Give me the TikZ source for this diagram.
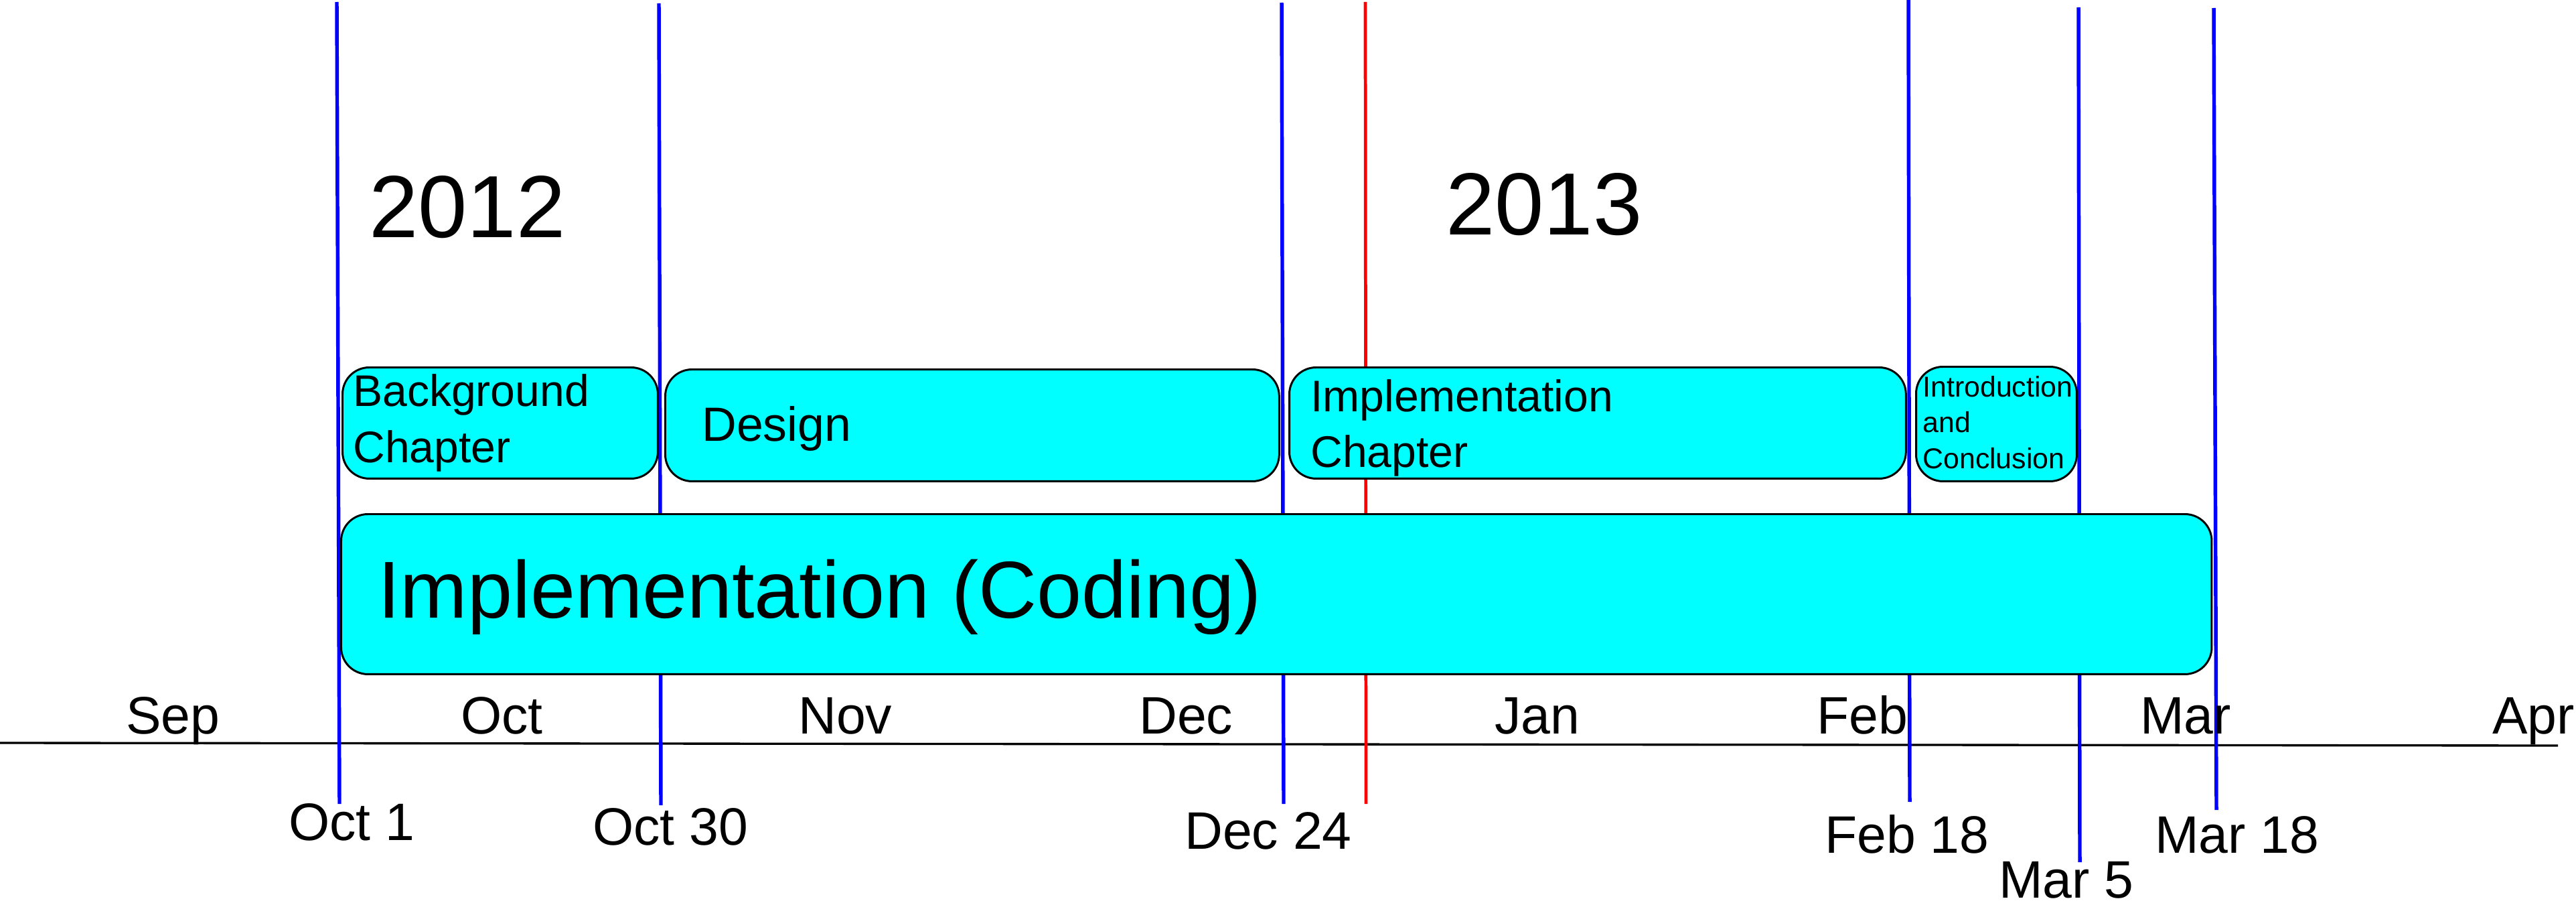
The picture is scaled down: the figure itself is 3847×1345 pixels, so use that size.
\documentclass[tikz,border=0pt]{standalone}
\usepackage{fontspec}
\setmainfont{Liberation Sans}
\begin{document}
\begin{tikzpicture}[x=0.02cm,y=-0.02cm,
  bluemark/.style={draw={rgb,255:red,0;green,0;blue,255}, line width=3.1pt},
  redmark/.style={draw={rgb,255:red,255;green,0;blue,0}, line width=2.7pt},
  axisline/.style={draw=black, line width=1.9pt},
  taskbox/.style={draw=black, fill={rgb,255:red,0;green,255;blue,255}, line width=1.7pt, rounded corners=0.8cm, inner sep=0pt, anchor=north west},
  txt/.style={inner sep=0pt, anchor=base west},
  monthfont/.style={font=\fontsize{44.8pt}{53pt}\selectfont},
  boxfont/.style={font=\fontsize{37.6pt}{45pt}\selectfont},
  designfont/.style={font=\fontsize{40.8pt}{49pt}\selectfont},
  smallfont/.style={font=\fontsize{24.4pt}{30pt}\selectfont},
  bigfont/.style={font=\fontsize{68.6pt}{80pt}\selectfont},
  yearfont/.style={font=\fontsize{75pt}{88pt}\selectfont}]
\useasboundingbox (0,0) rectangle (3847,1345);

% axis
\coordinate (axL) at (0,1109);
\coordinate (axR) at (3820,1113);
\draw[axisline] (axL) -- (axR);

% date markers
\coordinate (d1t) at (503,3);    \coordinate (d1b) at (507,1200);
\coordinate (d2t) at (984,5);    \coordinate (d2b) at (987,1202);
\coordinate (d3t) at (1914,4);   \coordinate (d3b) at (1917,1200);
\coordinate (rdt) at (2039,3);   \coordinate (rdb) at (2040,1200);
\coordinate (d4t) at (2850,0);   \coordinate (d4b) at (2852,1197);
\coordinate (d5t) at (3104,11);  \coordinate (d5b) at (3106,1287);
\coordinate (d6t) at (3306,12);  \coordinate (d6b) at (3310,1209);
\draw[bluemark] (d1t) -- (d1b);
\draw[bluemark] (d2t) -- (d2b);
\draw[bluemark] (d3t) -- (d3b);
\draw[redmark] (rdt) -- (rdb);
\draw[bluemark] (d4t) -- (d4b);
\draw[bluemark] (d5t) -- (d5b);
\draw[bluemark] (d6t) -- (d6b);

% years
\node[txt, yearfont] (y2012) at (551,354) {2012};
\node[txt, yearfont] (y2013) at (2159,350) {2013};

% task boxes
\node[taskbox, minimum width=9.42cm, minimum height=3.32cm] (bg) at (510,547) {};
\node[taskbox, minimum width=18.34cm, minimum height=3.34cm] (design) at (992,550) {};
\node[taskbox, minimum width=18.42cm, minimum height=3.32cm] (implch) at (1924,547) {};
\node[taskbox, minimum width=4.8cm, minimum height=3.42cm] (intro) at (2860,546) {};
\node[taskbox, minimum width=55.88cm, minimum height=4.78cm] (coding) at (508,766) {};

% box texts
\node[txt, boxfont] (bgA) at (527,606) {Background};
\node[txt, boxfont] (bgB) at (527,690) {Chapter};
\node[txt, designfont] (designT) at (1048,658) {Design};
\node[txt, boxfont] (icA) at (1957,614) {Implementation};
\node[txt, boxfont] (icB) at (1957,697) {Chapter};
\node[txt, smallfont] (inA) at (2871,592) {Introduction};
\node[txt, smallfont] (inB) at (2871,645) {and};
\node[txt, smallfont] (inC) at (2871,699) {Conclusion};
\node[txt, bigfont] (codingT) at (564,922) {Implementation (Coding)};

% months
\node[txt, monthfont] (mSep) at (188,1095) {Sep};
\node[txt, monthfont] (mOct) at (688,1095) {Oct};
\node[txt, monthfont] (mNov) at (1192,1095) {Nov};
\node[txt, monthfont] (mDec) at (1701,1095) {Dec};
\node[txt, monthfont] (mJan) at (2232,1095) {Jan};
\node[txt, monthfont] (mFeb) at (2713,1095) {Feb};
\node[txt, monthfont] (mMar) at (3196,1095) {Mar};
\node[txt, monthfont] (mApr) at (3722,1095) {Apr};

% dates
\node[txt, monthfont] (lOct1) at (431,1254) {Oct 1};
\node[txt, monthfont] (lOct30) at (885,1261) {Oct 30};
\node[txt, monthfont] (lDec24) at (1769,1267) {Dec 24};
\node[txt, monthfont] (lFeb18) at (2725,1273) {Feb 18};
\node[txt, monthfont] (lMar5) at (2985,1340) {Mar 5};
\node[txt, monthfont] (lMar18) at (3218,1273) {Mar 18};
\end{tikzpicture}
\end{document}
